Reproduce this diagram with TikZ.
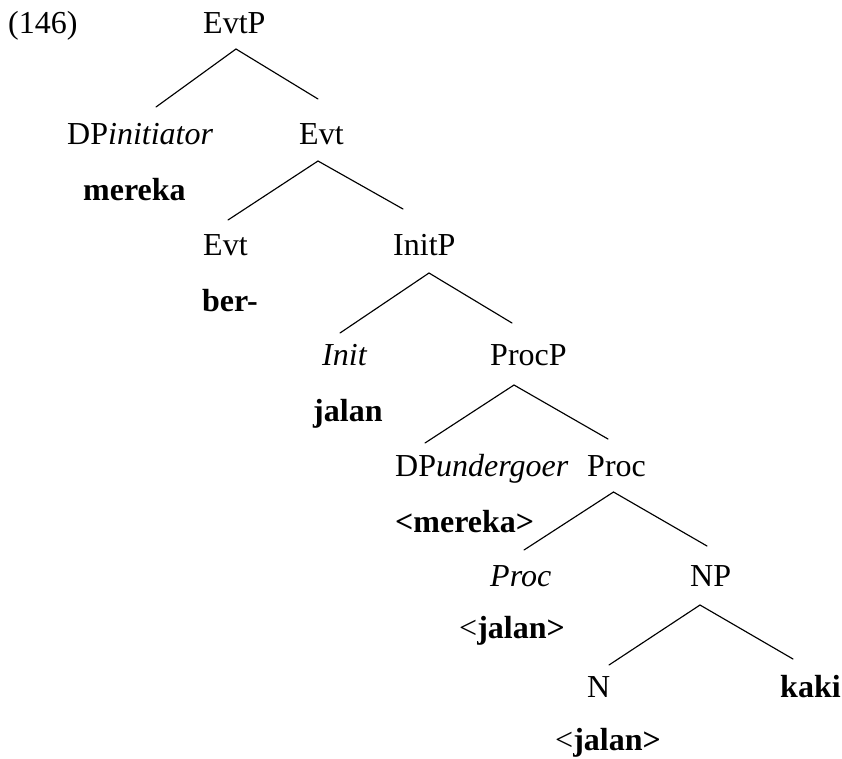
\documentclass[tikz,border=0pt]{standalone}
\usepackage{fontspec}
\setmainfont{Liberation Serif}
\begin{document}
\begin{tikzpicture}[x=1pt,y=-1pt,
  lbl/.style={anchor=base west,inner sep=0pt,font=\fontsize{32}{38}\selectfont},
  branch/.style={line width=1.15pt,line cap=round,line join=miter}]
\useasboundingbox (0,0) rectangle (842,758);

% example number
\node[lbl] (exnum) at (8,33) {(146)};

% labels, placed by their baselines
\node[lbl] (evtp)   at (203,33)  {EvtP};
\node[lbl] (dpinit) at (67,144)  {DP\textit{initiator}};
\node[lbl] (evtbar) at (299,144) {Evt};
\node[lbl] (mereka) at (83,200)  {\textbf{mereka}};
\node[lbl] (evthd)  at (203,255) {Evt};
\node[lbl] (initp)  at (393,255) {InitP};
\node[lbl] (ber)    at (202,311) {\textbf{ber-}};
\node[lbl] (inithd) at (322,365) {\textit{Init}};
\node[lbl] (procp)  at (490,365) {ProcP};
\node[lbl] (jalanA) at (313,421) {\textbf{jalan}};
\node[lbl] (dpund)  at (395,476) {DP\textit{undergoer}};
\node[lbl] (procbar) at (587,476) {Proc};
\node[lbl] (merekaT) at (395,532) {\textbf{<mereka>}};
\node[lbl] (prochd) at (490,586) {\textit{Proc}};
\node[lbl] (np)     at (690,586) {NP};
\node[lbl] (jalanB) at (459,638) {<\textbf{jalan>}};
\node[lbl] (nhd)    at (587,697) {N};
\node[lbl] (kaki)   at (780,697) {\textbf{kaki}};
\node[lbl] (jalanC) at (555,750) {<\textbf{jalan>}};

% branch end points
\coordinate (evtp-b)   at (236,49);
\coordinate (dpinit-t) at (156,107);
\coordinate (evtbar-t) at (318,99);

\coordinate (evtbar-b) at (318,161);
\coordinate (evthd-t)  at (228,220);
\coordinate (initp-t)  at (403,209);

\coordinate (initp-b)  at (429,273);
\coordinate (inithd-t) at (340,333);
\coordinate (procp-t)  at (512,323);

\coordinate (procp-b)  at (514,385);
\coordinate (dpund-t)  at (425,443);
\coordinate (procbar-t) at (608,439);

\coordinate (procbar-b) at (613.5,492);
\coordinate (prochd-t) at (524,550);
\coordinate (np-t)     at (707,546);

\coordinate (np-b)     at (700,605);
\coordinate (nhd-t)    at (609,665);
\coordinate (kaki-t)   at (793,659);

% branches
\draw[branch] (dpinit-t) -- (evtp-b) -- (evtbar-t);
\draw[branch] (evthd-t) -- (evtbar-b) -- (initp-t);
\draw[branch] (inithd-t) -- (initp-b) -- (procp-t);
\draw[branch] (dpund-t) -- (procp-b) -- (procbar-t);
\draw[branch] (prochd-t) -- (procbar-b) -- (np-t);
\draw[branch] (nhd-t) -- (np-b) -- (kaki-t);
\end{tikzpicture}
\end{document}
